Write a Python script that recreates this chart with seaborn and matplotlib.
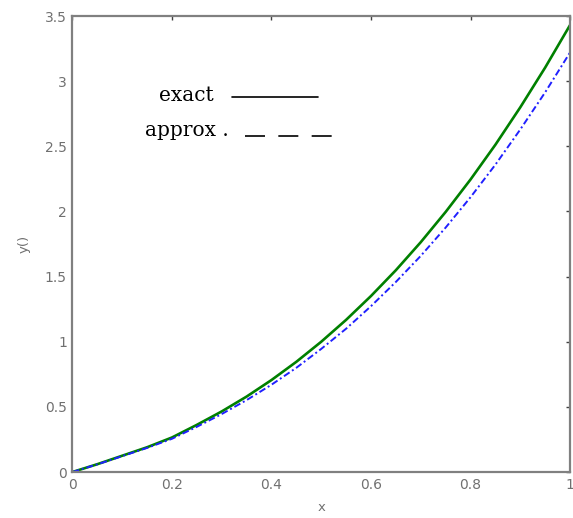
import numpy as np
import pandas as pd
import seaborn as sns
import matplotlib
matplotlib.use("Agg")
import matplotlib.pyplot as plt

# values
x_vals = [0.0, 0.05, 0.1, 0.15, 0.2, 0.25, 0.3, 0.35, 0.4, 0.45, 0.5,
          0.55, 0.6, 0.65, 0.7, 0.75, 0.8, 0.85, 0.9, 0.95, 1.0]
exact = [0.0, 0.06, 0.125, 0.19, 0.265, 0.362, 0.465, 0.579, 0.706, 0.846, 1.0,
         1.168, 1.351, 1.549, 1.764, 1.996, 2.245, 2.512, 2.799, 3.104, 3.43]
approx = [0.0, 0.059, 0.122, 0.185, 0.255, 0.347, 0.445, 0.552, 0.67, 0.80, 0.945,
          1.10, 1.273, 1.459, 1.659, 1.876, 2.109, 2.359, 2.629, 2.914, 3.22]
x_ticks = [0, 0.2, 0.4, 0.6, 0.8, 1]
y_ticks = [0, 0.5, 1, 1.5, 2, 2.5, 3, 3.5]
x_tick_labels = ["0", "0.2", "0.4", "0.6", "0.8", "1"]
y_tick_labels = ["0", "0.5", "1", "1.5", "2", "2.5", "3", "3.5"]

df = pd.DataFrame({"x": x_vals, "exact": exact, "approx": approx})

sns.set_style("white")
plt.rcParams["font.family"] = ["DejaVu Sans"]

fig = plt.figure(figsize=(5.73, 5.18), dpi=100)
ax = fig.add_axes([0.1265, 0.0888, 0.8683, 0.8803])

grey = "#808080"
sns.lineplot(data=df, x="x", y="exact", ax=ax, color="#008000", lw=1.9)
sns.lineplot(data=df, x="x", y="approx", ax=ax, color="#2020ff", lw=1.4,
             linestyle=(0, (3.5, 1.5, 1, 1.5)))

ax.set_xlim(0, 1)
ax.set_ylim(0, 3.5)
ax.set_xticks(x_ticks)
ax.set_xticklabels(x_tick_labels)
ax.set_yticks(y_ticks)
ax.set_yticklabels(y_tick_labels)
ax.tick_params(direction="in", length=3, width=1, color="#404040",
               labelcolor="#707070", labelsize=10, top=True, right=True, pad=4)
for s in ax.spines.values():
    s.set_color(grey)
    s.set_linewidth(1.6)
ax.set_xlabel("x", color="#707070", fontsize=9.5, labelpad=7)
ax.set_ylabel("y()", color="#707070", fontsize=9.5, labelpad=10)

# hand-placed key, like the original
key_font = dict(family="DejaVu Serif", fontsize=14.5, color="black", va="center")
ax.text(0.174, 0.826, "exact", transform=ax.transAxes, **key_font)
ax.plot([0.32, 0.493], [0.823, 0.823], transform=ax.transAxes, color="black", lw=1.2)
ax.text(0.146, 0.749, "approx .", transform=ax.transAxes, **key_font)
ax.plot([0.347, 0.528], [0.737, 0.737], transform=ax.transAxes, color="black", lw=1.2,
        linestyle=(0, (12, 8)))

fig.savefig("out.png", dpi=100)
